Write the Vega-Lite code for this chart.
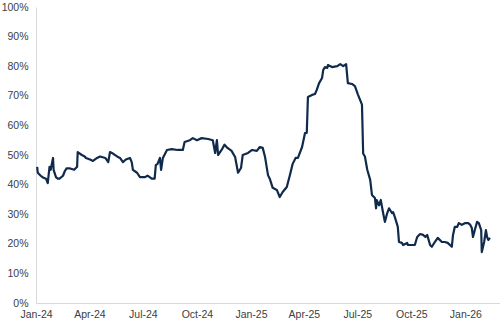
{
  "$schema": "https://vega.github.io/schema/vega-lite/v6.json",
  "width": 464,
  "height": 296,
  "autosize": {"type": "none"},
  "padding": {"left": 36, "top": 7, "right": 0, "bottom": 19},
  "background": "white",
  "config": {"view": {"stroke": null}, "font": "Liberation Sans"},
  "data": {"values": [
    {"date": "2024-01-03", "v": 0.46},
    {"date": "2024-01-04", "v": 0.44},
    {"date": "2024-01-09", "v": 0.43},
    {"date": "2024-01-12", "v": 0.425},
    {"date": "2024-01-18", "v": 0.42},
    {"date": "2024-01-21", "v": 0.405},
    {"date": "2024-01-24", "v": 0.46},
    {"date": "2024-01-26", "v": 0.45},
    {"date": "2024-01-30", "v": 0.49},
    {"date": "2024-01-31", "v": 0.45},
    {"date": "2024-02-04", "v": 0.425},
    {"date": "2024-02-07", "v": 0.42},
    {"date": "2024-02-10", "v": 0.42},
    {"date": "2024-02-16", "v": 0.43},
    {"date": "2024-02-19", "v": 0.445},
    {"date": "2024-02-22", "v": 0.455},
    {"date": "2024-02-27", "v": 0.455},
    {"date": "2024-03-06", "v": 0.45},
    {"date": "2024-03-11", "v": 0.46},
    {"date": "2024-03-12", "v": 0.51},
    {"date": "2024-03-19", "v": 0.50},
    {"date": "2024-03-24", "v": 0.495},
    {"date": "2024-03-26", "v": 0.49},
    {"date": "2024-04-02", "v": 0.485},
    {"date": "2024-04-07", "v": 0.48},
    {"date": "2024-04-14", "v": 0.49},
    {"date": "2024-04-19", "v": 0.495},
    {"date": "2024-04-28", "v": 0.49},
    {"date": "2024-05-03", "v": 0.476},
    {"date": "2024-05-06", "v": 0.51},
    {"date": "2024-05-11", "v": 0.505},
    {"date": "2024-05-18", "v": 0.495},
    {"date": "2024-05-23", "v": 0.49},
    {"date": "2024-05-28", "v": 0.476},
    {"date": "2024-06-02", "v": 0.485},
    {"date": "2024-06-09", "v": 0.49},
    {"date": "2024-06-12", "v": 0.476},
    {"date": "2024-06-14", "v": 0.45},
    {"date": "2024-06-21", "v": 0.44},
    {"date": "2024-06-26", "v": 0.425},
    {"date": "2024-07-04", "v": 0.425},
    {"date": "2024-07-09", "v": 0.43},
    {"date": "2024-07-16", "v": 0.42},
    {"date": "2024-07-21", "v": 0.42},
    {"date": "2024-07-23", "v": 0.466},
    {"date": "2024-07-26", "v": 0.47},
    {"date": "2024-07-30", "v": 0.49},
    {"date": "2024-08-01", "v": 0.45},
    {"date": "2024-08-04", "v": 0.49},
    {"date": "2024-08-11", "v": 0.517},
    {"date": "2024-08-19", "v": 0.52},
    {"date": "2024-08-29", "v": 0.517},
    {"date": "2024-09-07", "v": 0.517},
    {"date": "2024-09-10", "v": 0.544},
    {"date": "2024-09-19", "v": 0.55},
    {"date": "2024-09-24", "v": 0.557},
    {"date": "2024-10-01", "v": 0.55},
    {"date": "2024-10-09", "v": 0.557},
    {"date": "2024-10-20", "v": 0.554},
    {"date": "2024-10-28", "v": 0.55},
    {"date": "2024-11-01", "v": 0.507},
    {"date": "2024-11-04", "v": 0.55},
    {"date": "2024-11-06", "v": 0.50},
    {"date": "2024-11-12", "v": 0.517},
    {"date": "2024-11-17", "v": 0.535},
    {"date": "2024-11-22", "v": 0.524},
    {"date": "2024-11-29", "v": 0.514},
    {"date": "2024-12-05", "v": 0.493},
    {"date": "2024-12-10", "v": 0.44},
    {"date": "2024-12-15", "v": 0.456},
    {"date": "2024-12-18", "v": 0.50},
    {"date": "2024-12-27", "v": 0.507},
    {"date": "2025-01-03", "v": 0.517},
    {"date": "2025-01-11", "v": 0.514},
    {"date": "2025-01-16", "v": 0.527},
    {"date": "2025-01-21", "v": 0.524},
    {"date": "2025-01-25", "v": 0.493},
    {"date": "2025-01-30", "v": 0.432},
    {"date": "2025-02-02", "v": 0.42},
    {"date": "2025-02-07", "v": 0.389},
    {"date": "2025-02-14", "v": 0.382},
    {"date": "2025-02-19", "v": 0.358},
    {"date": "2025-02-24", "v": 0.375},
    {"date": "2025-03-03", "v": 0.392},
    {"date": "2025-03-08", "v": 0.43},
    {"date": "2025-03-13", "v": 0.47},
    {"date": "2025-03-18", "v": 0.49},
    {"date": "2025-03-22", "v": 0.49},
    {"date": "2025-03-29", "v": 0.527},
    {"date": "2025-04-03", "v": 0.574},
    {"date": "2025-04-06", "v": 0.575},
    {"date": "2025-04-08", "v": 0.696},
    {"date": "2025-04-15", "v": 0.703},
    {"date": "2025-04-20", "v": 0.706},
    {"date": "2025-04-23", "v": 0.72},
    {"date": "2025-04-27", "v": 0.743},
    {"date": "2025-05-02", "v": 0.76},
    {"date": "2025-05-04", "v": 0.787},
    {"date": "2025-05-07", "v": 0.797},
    {"date": "2025-05-11", "v": 0.794},
    {"date": "2025-05-12", "v": 0.804},
    {"date": "2025-05-19", "v": 0.797},
    {"date": "2025-05-28", "v": 0.80},
    {"date": "2025-06-02", "v": 0.807},
    {"date": "2025-06-07", "v": 0.80},
    {"date": "2025-06-12", "v": 0.807},
    {"date": "2025-06-15", "v": 0.743},
    {"date": "2025-06-22", "v": 0.74},
    {"date": "2025-06-27", "v": 0.733},
    {"date": "2025-07-02", "v": 0.705},
    {"date": "2025-07-09", "v": 0.67},
    {"date": "2025-07-11", "v": 0.505},
    {"date": "2025-07-14", "v": 0.495},
    {"date": "2025-07-18", "v": 0.45},
    {"date": "2025-07-23", "v": 0.416},
    {"date": "2025-07-26", "v": 0.365},
    {"date": "2025-07-31", "v": 0.355},
    {"date": "2025-08-02", "v": 0.32},
    {"date": "2025-08-03", "v": 0.348},
    {"date": "2025-08-07", "v": 0.33},
    {"date": "2025-08-10", "v": 0.348},
    {"date": "2025-08-14", "v": 0.304},
    {"date": "2025-08-17", "v": 0.274},
    {"date": "2025-08-21", "v": 0.304},
    {"date": "2025-08-24", "v": 0.32},
    {"date": "2025-08-29", "v": 0.304},
    {"date": "2025-08-31", "v": 0.307},
    {"date": "2025-09-03", "v": 0.29},
    {"date": "2025-09-07", "v": 0.264},
    {"date": "2025-09-08", "v": 0.257},
    {"date": "2025-09-10", "v": 0.206},
    {"date": "2025-09-15", "v": 0.203},
    {"date": "2025-09-17", "v": 0.196},
    {"date": "2025-09-24", "v": 0.203},
    {"date": "2025-09-25", "v": 0.196},
    {"date": "2025-10-02", "v": 0.196},
    {"date": "2025-10-07", "v": 0.196},
    {"date": "2025-10-11", "v": 0.223},
    {"date": "2025-10-16", "v": 0.233},
    {"date": "2025-10-21", "v": 0.23},
    {"date": "2025-10-25", "v": 0.223},
    {"date": "2025-10-28", "v": 0.23},
    {"date": "2025-11-02", "v": 0.196},
    {"date": "2025-11-05", "v": 0.19},
    {"date": "2025-11-10", "v": 0.206},
    {"date": "2025-11-15", "v": 0.22},
    {"date": "2025-11-22", "v": 0.206},
    {"date": "2025-11-27", "v": 0.206},
    {"date": "2025-12-02", "v": 0.203},
    {"date": "2025-12-09", "v": 0.19},
    {"date": "2025-12-11", "v": 0.23},
    {"date": "2025-12-14", "v": 0.257},
    {"date": "2025-12-18", "v": 0.257},
    {"date": "2025-12-21", "v": 0.27},
    {"date": "2025-12-26", "v": 0.264},
    {"date": "2026-01-01", "v": 0.27},
    {"date": "2026-01-06", "v": 0.27},
    {"date": "2026-01-09", "v": 0.265},
    {"date": "2026-01-12", "v": 0.253},
    {"date": "2026-01-14", "v": 0.223},
    {"date": "2026-01-17", "v": 0.246},
    {"date": "2026-01-21", "v": 0.274},
    {"date": "2026-01-24", "v": 0.27},
    {"date": "2026-01-28", "v": 0.246},
    {"date": "2026-01-29", "v": 0.172},
    {"date": "2026-02-02", "v": 0.206},
    {"date": "2026-02-05", "v": 0.246},
    {"date": "2026-02-07", "v": 0.223},
    {"date": "2026-02-09", "v": 0.213},
    {"date": "2026-02-12", "v": 0.22}
  ]},
  "mark": {"type": "line", "color": "#0f2a4a", "strokeWidth": 2.2, "strokeJoin": "round", "clip": true},
  "encoding": {
    "x": {
      "field": "date", "type": "temporal",
      "scale": {"type": "utc", "domain": [
        {"year": 2024, "month": 1, "date": 1, "utc": true},
        {"year": 2026, "month": 3, "date": 1, "utc": true}
      ]},
      "axis": {
        "title": null, "grid": false, "ticks": false,
        "domainColor": "#d9d9d9", "domainWidth": 1,
        "labelColor": "#404040", "labelFontSize": 10.5, "labelPadding": 6,
        "format": "%b-%y", "labelFlush": false, "labelOverlap": false,
        "values": [
          {"year": 2024, "month": 1, "date": 1, "utc": true},
          {"year": 2024, "month": 4, "date": 1, "utc": true},
          {"year": 2024, "month": 7, "date": 1, "utc": true},
          {"year": 2024, "month": 10, "date": 1, "utc": true},
          {"year": 2025, "month": 1, "date": 1, "utc": true},
          {"year": 2025, "month": 4, "date": 1, "utc": true},
          {"year": 2025, "month": 7, "date": 1, "utc": true},
          {"year": 2025, "month": 10, "date": 1, "utc": true},
          {"year": 2026, "month": 1, "date": 1, "utc": true}
        ]
      }
    },
    "y": {
      "field": "v", "type": "quantitative",
      "scale": {"domain": [0, 1], "nice": false, "zero": true},
      "axis": {
        "title": null, "grid": false, "ticks": false,
        "domainColor": "#d9d9d9", "domainWidth": 1,
        "labelColor": "#404040", "labelFontSize": 10.5, "labelPadding": 8,
        "format": ".0%", "labelFlush": false, "labelOverlap": false,
        "values": [0, 0.1, 0.2, 0.3, 0.4, 0.5, 0.6, 0.7, 0.8, 0.9, 1]
      }
    }
  }
}
